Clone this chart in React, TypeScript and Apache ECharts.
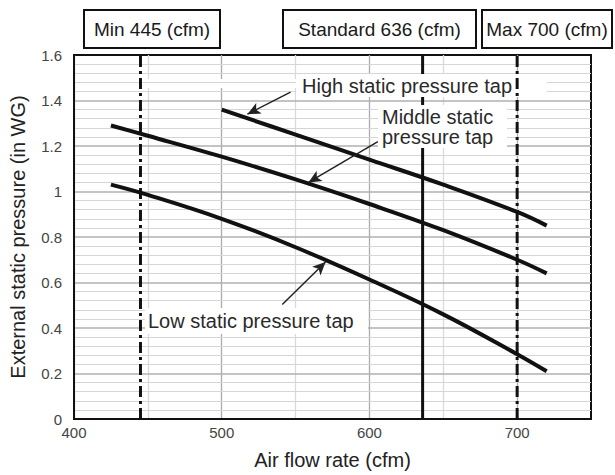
import React, { useEffect, useRef } from "react";
import * as echarts from "echarts";

// ---- data ----
const highX = [500, 550, 600, 650, 700, 720];
const highY = [1.36, 1.25, 1.14, 1.03, 0.91, 0.85];
const middleX = [425, 450, 500, 550, 600, 650, 700, 720];
const middleY = [1.29, 1.245, 1.153, 1.053, 0.945, 0.83, 0.7, 0.64];
const lowX = [425, 450, 500, 550, 600, 650, 700, 720];
const lowY = [1.03, 0.985, 0.88, 0.755, 0.613, 0.46, 0.285, 0.21];

const refNames = ["Min 445 (cfm)", "Standard 636 (cfm)", "Max 700 (cfm)"];
const refX = [445, 636, 700];

const xTicks = [400, 500, 600, 700];
const yMin = 0;
const yMax = 1.6;

// arrows (data units): [fromX, fromY, toX, toY]
const arrowHigh = [546.6, 1.437, 517.4, 1.34];
const arrowMiddle = [605.7, 1.219, 558.7, 1.04];
const arrowLow = [541, 0.503, 570.3, 0.69];

const labelHigh = "High static pressure tap";
const labelMiddle = "Middle static\npressure tap";
const labelLow = "Low static pressure tap";

const FONT = "Liberation Sans, Arial, sans-serif";

function zip(xs: number[], ys: number[]) {
  return xs.map((x, i) => [x, ys[i]]);
}

export default function App() {
  const ref = useRef<HTMLDivElement>(null);
  useEffect(() => {
    if (!ref.current) return;
    const chart = echarts.init(ref.current, null, { renderer: "svg" });

    const curveStyle = { color: "#111", width: 4 };
    const curve = (name: string, xs: number[], ys: number[]) => ({
      name,
      type: "line",
      data: zip(xs, ys),
      smooth: 0.4,
      showSymbol: false,
      symbol: "none",
      lineStyle: curveStyle,
      z: 4,
    });

    const refLine = (i: number, dashed: boolean, z: number) => ({
      name: refNames[i],
      type: "line",
      data: [
        [refX[i], yMin],
        [refX[i], yMax],
      ],
      showSymbol: false,
      symbol: "none",
      lineStyle: {
        color: "#111",
        width: 3,
        type: dashed ? [11, 4, 3, 4] : "solid",
      },
      z,
    });

    const arrow = (a: number[]) => [
      { coord: [a[0], a[1]], symbol: "none" },
      { coord: [a[2], a[3]], symbol: "arrow" },
    ];

    const boxes = [
      { x: 84, w: 136 },
      { x: 283, w: 193 },
      { x: 482, w: 130 },
    ];

    const graphic: any[] = [];
    boxes.forEach((b, i) => {
      graphic.push({
        type: "rect",
        shape: { x: b.x, y: 10, width: b.w, height: 38 },
        style: { fill: "#fff", stroke: "#111", lineWidth: 2 },
        z: 20,
      });
      graphic.push({
        type: "text",
        x: b.x + b.w / 2,
        y: 29,
        style: {
          text: refNames[i],
          font: `19px ${FONT}`,
          fill: "#1a1a1a",
          align: "center",
          verticalAlign: "middle",
        },
        z: 21,
      });
    });
    // white patches behind labels
    graphic.push({
      type: "rect",
      shape: { x: 107, y: 79, width: 190, height: 9 },
      style: { fill: "#fff" },
      z: 1,
    });
    graphic.push({
      type: "rect",
      shape: { x: 296, y: 74, width: 251, height: 23 },
      style: { fill: "#fff" },
      z: 5,
    });
    graphic.push({
      type: "text",
      x: 302,
      y: 86,
      style: { text: labelHigh, font: `20px ${FONT}`, fill: "#2a2a2a", verticalAlign: "middle" },
      z: 6,
    });
    graphic.push({
      type: "rect",
      shape: { x: 378, y: 105, width: 129, height: 43 },
      style: { fill: "#fff" },
      z: 5,
    });
    graphic.push({
      type: "text",
      x: 382,
      y: 107,
      style: {
        text: labelMiddle,
        font: `20px ${FONT}`,
        lineHeight: 20,
        fill: "#2a2a2a",
        verticalAlign: "top",
      },
      z: 6,
    });
    graphic.push({
      type: "rect",
      shape: { x: 145, y: 308, width: 223, height: 26 },
      style: { fill: "#fff" },
      z: 5,
    });
    graphic.push({
      type: "text",
      x: 148,
      y: 321,
      style: { text: labelLow, font: `20px ${FONT}`, fill: "#2a2a2a", verticalAlign: "middle" },
      z: 6,
    });

    const option: any = {
      animation: false,
      backgroundColor: "#fff",
      grid: {
        left: 73,
        right: 24,
        top: 55,
        bottom: 51,
        show: true,
        borderColor: "#111",
        borderWidth: 2,
        backgroundColor: "transparent",
      },
      xAxis: {
        type: "value",
        min: 400,
        max: 750,
        interval: 50,
        name: "Air flow rate (cfm)",
        nameLocation: "middle",
        nameGap: 31,
        nameTextStyle: { fontSize: 20, color: "#222", fontFamily: FONT },
        axisLine: { show: true, lineStyle: { color: "#111", width: 2 } },
        axisTick: { show: false },
        axisLabel: {
          fontSize: 15,
          color: "#444",
          fontFamily: FONT,
          margin: 6,
          showMaxLabel: false,
          formatter: (v: number) => (xTicks.indexOf(v) >= 0 ? String(v) : ""),
        },
        splitLine: {
          show: true,
          showMinLine: true,
          showMaxLine: false,
          lineStyle: { color: ["#ababab", "#dadada"], width: 1.3 },
        },
      },
      yAxis: {
        type: "value",
        min: yMin,
        max: yMax,
        interval: 0.2,
        z: 1,
        name: "External static pressure (in WG)",
        nameLocation: "middle",
        nameGap: 46,
        nameTextStyle: { fontSize: 20, color: "#222", fontFamily: FONT },
        axisLine: { show: true, lineStyle: { color: "#111", width: 2 } },
        axisTick: { show: false },
        axisLabel: { fontSize: 15, color: "#444", fontFamily: FONT, margin: 12 },
        splitLine: {
          show: true,
          showMinLine: false,
          showMaxLine: false,
          lineStyle: { color: "#b0b0b0", width: 1.5 },
        },
        minorTick: { show: false, splitNumber: 5 },
        minorSplitLine: { show: true, lineStyle: { color: "#d6d6d6", width: 1 } },
      },
      graphic,
      series: [
        refLine(0, true, 10),
        refLine(1, false, 3),
        refLine(2, true, 10),
        curve("High static pressure tap", highX, highY),
        curve("Middle static pressure tap", middleX, middleY),
        {
          ...curve("Low static pressure tap", lowX, lowY),
          markLine: {
            silent: true,
            symbol: ["none", "arrow"],
            symbolSize: [9, 13],
            label: { show: false },
            lineStyle: { color: "#222", width: 1.5, type: "solid" },
            data: [arrow(arrowHigh), arrow(arrowMiddle), arrow(arrowLow)],
          },
        },
      ],
    };
    chart.setOption(option);
    return () => chart.dispose();
  }, []);
  return (
    <div
      ref={ref}
      style={{ position: "fixed", left: 0, top: 0, width: 615, height: 475, background: "#fff" }}
    />
  );
}
